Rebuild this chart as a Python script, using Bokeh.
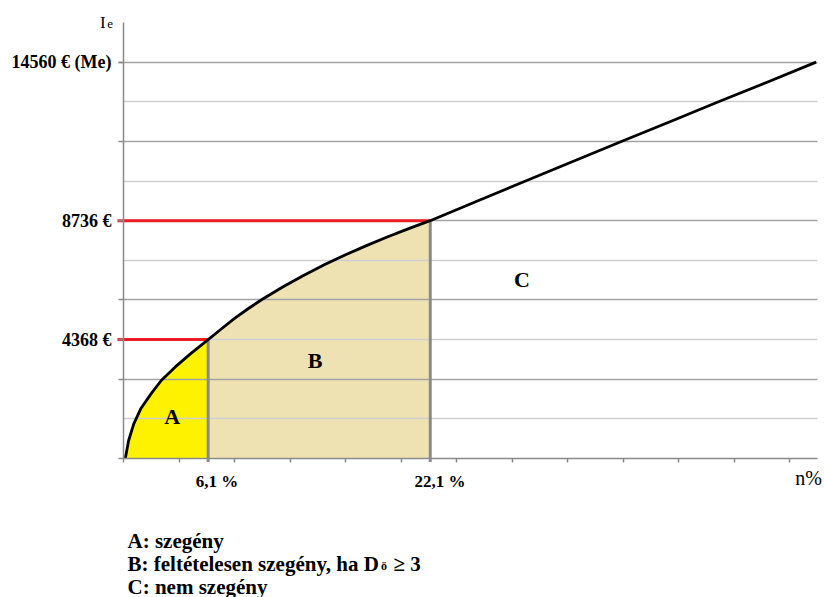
from bokeh.plotting import figure
from bokeh.models import Range1d, FixedTicker, Label, LinearAxis, Grid
from bokeh.embed import file_html
from bokeh.resources import INLINE

# ---- data ----
curve_x = [0.13, 0.37, 0.74, 1.24, 1.98, 2.72, 3.71, 4.82, 6.1,
           7.0, 8.0, 9.0, 10.0, 11.5, 13.0, 14.5, 16.0, 17.5, 19.0, 20.5, 22.1,
           25.5, 29.1, 32.5, 36.0, 39.5, 43.0, 46.5, 49.9]
curve_y = [0, 660, 1275, 1825, 2375, 2865, 3355, 3845, 4368,
           4740, 5150, 5510, 5850, 6310, 6735, 7125, 7485, 7820, 8135, 8435, 8736,
           9460, 10220, 10940, 11670, 12400, 13130, 13850, 14560]
x_thresholds = [6.1, 22.1]
x_threshold_labels = ["6,1 %", "22,1 %"]
y_thresholds = [4368, 8736]
y_plain_ticks = [0, 2912, 5824, 8736, 11648, 14560]
y_label_ticks = [4368, 8736, 14560]
y_tick_labels = ["4368 €", "8736 €", "14560 € (Me)"]
grid_major = [2912, 5824, 8736, 11648, 14560]
grid_minor = [1456, 4368, 7280, 10192, 13104]
x_ticks = [0, 4, 8, 12, 16, 20, 24, 28, 32, 36, 40, 44, 48]
region_names = ["A", "B", "C"]
region_pos_x = [3.5, 13.8, 28.7]
region_pos_y = [1560, 3600, 6575]
legend_lines = ["A: szegény", "B: feltételesen szegény, ha D", "C: nem szegény"]

X_MAX = 50
Y_MAX = 16016

# ---- layout (pixels) ----
W, H = 824, 597
FX0, FX1 = 123, 817      # pixel position of x = 0 and x = X_MAX
FY0, FY1 = 458, 22       # pixel position of y = 0 and y = Y_MAX
SX = (FX1 - FX0) / X_MAX
SY = (FY0 - FY1) / Y_MAX


def dx(px):   # pixel offset -> x units
    return px / SX


def dy(px):   # pixel offset -> y units
    return px / SY


def y_at(py):  # page pixel row -> y units
    return (FY0 - py) / SY


x_range = Range1d(-dx(FX0), X_MAX + dx(W - FX1))
y_range = Range1d(-dy(H - FY0), Y_MAX + dy(FY1))

SERIF = "Liberation Serif"
GRAY = "#8A8A8A"

p = figure(width=W, height=H, output_backend="svg", toolbar_location=None,
           x_range=x_range, y_range=y_range, x_axis_location=None, y_axis_location=None)
p.min_border = 0
p.min_border_left = p.min_border_right = p.min_border_top = p.min_border_bottom = 0
p.outline_line_color = None
p.background_fill_color = "white"
p.border_fill_color = "white"
# drop the default grids
p.center = [r for r in p.center if not isinstance(r, Grid)]

# ---- axes (drawn at data 0, limited to the chart area) ----
xaxis = LinearAxis(ticker=FixedTicker(ticks=x_ticks), fixed_location=0, bounds=(0, X_MAX))
xaxis.major_label_text_color = None
xaxis.major_tick_out = 4
xaxis.major_tick_in = 0
xaxis.minor_tick_out = 0
xaxis.axis_line_color = GRAY
xaxis.axis_line_width = 1.5
xaxis.major_tick_line_color = GRAY
xaxis.major_tick_line_width = 1.5
p.add_layout(xaxis, "below")

yaxis = LinearAxis(ticker=FixedTicker(ticks=y_plain_ticks), fixed_location=0, bounds=(0, Y_MAX))
yaxis.major_label_text_color = None
yaxis.major_tick_out = 5
yaxis.major_tick_in = 0
yaxis.minor_tick_out = 0
yaxis.axis_line_color = GRAY
yaxis.axis_line_width = 1.5
yaxis.major_tick_line_color = GRAY
yaxis.major_tick_line_width = 1.5
p.add_layout(yaxis, "left")

ylab = LinearAxis(ticker=FixedTicker(ticks=y_label_ticks), fixed_location=0, bounds=(0, Y_MAX))
ylab.major_label_overrides = dict(zip(y_label_ticks, y_tick_labels))
ylab.major_label_text_font = SERIF
ylab.major_label_text_font_style = "bold"
ylab.major_label_text_font_size = "18px"
ylab.major_label_text_color = "black"
ylab.major_label_standoff = 7
ylab.major_tick_out = 5
ylab.major_tick_in = 0
ylab.minor_tick_out = 0
ylab.axis_line_color = None
ylab.major_tick_line_color = GRAY
ylab.major_tick_line_width = 1.5
p.add_layout(ylab, "left")

# ---- horizontal grid lines ----
grid_done = False
try:
    g = Grid(dimension=1, ticker=FixedTicker(ticks=grid_major, minor_ticks=grid_minor),
             bounds=(0, Y_MAX))
    g.cross_bounds = (0, X_MAX)
    g.grid_line_color = "#A3A3A3"
    g.grid_line_width = 1.6
    g.minor_grid_line_color = "#CFCFCF"
    g.minor_grid_line_width = 1.3
    g.level = "underlay"
    p.add_layout(g, "center")
    grid_done = True
except Exception:
    grid_done = False
if not grid_done:
    p.segment(x0=[0] * len(grid_major), x1=[X_MAX] * len(grid_major), y0=grid_major,
              y1=grid_major, line_color="#A3A3A3", line_width=1.6, level="underlay")
    p.segment(x0=[0] * len(grid_minor), x1=[X_MAX] * len(grid_minor), y0=grid_minor,
              y1=grid_minor, line_color="#CFCFCF", line_width=1.3, level="underlay")

# ---- filled regions ----
iA = curve_x.index(x_thresholds[0])
iB = curve_x.index(x_thresholds[1])
p.varea(x=curve_x[:iA + 1], y1=[0] * (iA + 1), y2=curve_y[:iA + 1],
        fill_color="#FFF200", level="image")
p.varea(x=curve_x[iA:iB + 1], y1=[0] * (iB - iA + 1), y2=curve_y[iA:iB + 1],
        fill_color="#EEE2B2", level="image")

# ---- threshold lines ----
p.segment(x0=x_thresholds, y0=[-dy(3.5)] * 2, x1=x_thresholds, y1=y_thresholds,
          line_color=GRAY, line_width=3)
p.segment(x0=[-dx(6)] * 2, y0=y_thresholds, x1=x_thresholds, y1=y_thresholds,
          line_color="#ED1C24", line_width=3)

# ---- curve ----
p.line(curve_x, curve_y, line_color="black", line_width=2.8, line_join="round")

# ---- region letters ----
for name, rx, ry in zip(region_names, region_pos_x, region_pos_y):
    p.add_layout(Label(x=rx, y=ry, text=name, text_font=SERIF, text_font_style="bold",
                       text_font_size="22px", text_align="center",
                       text_baseline="middle", text_color="black"))

# ---- x labels ----
for xv, lab, off in zip(x_thresholds, x_threshold_labels, [8.8, 9.7]):
    p.add_layout(Label(x=xv, y=y_at(481), x_offset=off, text=lab, text_font=SERIF,
                       text_font_style="bold", text_font_size="17px",
                       text_align="center", text_baseline="middle", text_color="black"))
p.add_layout(Label(x=X_MAX, y=y_at(477.5), x_offset=4.5, text="n%", text_font=SERIF,
                   text_font_size="20px", text_align="right", text_baseline="middle",
                   text_color="black"))

# ---- y axis title I_e ----
p.add_layout(Label(x=0, y=y_at(22.2), x_offset=-23.5, text="I", text_font=SERIF,
                   text_font_size="17px", text_align="left", text_baseline="middle",
                   text_color="black"))
p.add_layout(Label(x=0, y=y_at(23.2), x_offset=-16.3, text="e", text_font=SERIF,
                   text_font_size="13px", text_align="left", text_baseline="middle",
                   text_color="black"))

# ---- legend text below ----
legend_x = dx(4)
legend_rows = [540, 563, 586]
for line, row in zip(legend_lines, legend_rows):
    p.add_layout(Label(x=legend_x, y=y_at(row), text=line, text_font=SERIF,
                       text_font_style="bold", text_font_size="21px", text_align="left",
                       text_baseline="middle", text_color="black"))
p.add_layout(Label(x=legend_x, y=y_at(legend_rows[1] + 2.5), x_offset=253.5, text="ö",
                   text_font=SERIF, text_font_style="bold", text_font_size="12px",
                   text_align="left", text_baseline="middle", text_color="black"))
p.add_layout(Label(x=legend_x, y=y_at(legend_rows[1]), x_offset=266, text="≥ 3",
                   text_font=SERIF, text_font_style="bold", text_font_size="21px",
                   text_align="left", text_baseline="middle", text_color="black"))

open("out.html", "w").write(file_html(p, INLINE))
